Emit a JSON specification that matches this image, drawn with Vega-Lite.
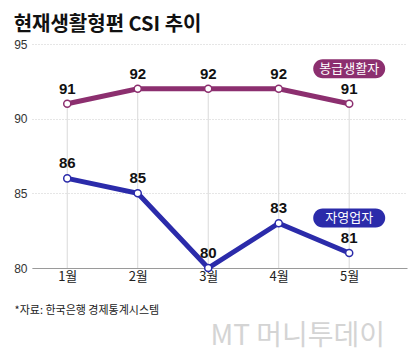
{
  "$schema": "https://vega.github.io/schema/vega-lite/v6.json",
  "width": 375,
  "height": 224,
  "autosize": {"type": "none"},
  "padding": {"left": 32, "top": 44, "right": 13, "bottom": 88},
  "background": "white",
  "title": {
    "text": "현재생활형편 CSI 추이",
    "anchor": "start",
    "dx": 0,
    "offset": 3,
    "font": "Noto Sans CJK KR",
    "fontSize": 20,
    "fontWeight": "bold",
    "color": "#111111"
  },
  "config": {
    "view": {"stroke": null},
    "font": "Noto Sans CJK KR"
  },
  "data": {
    "values": [
      {"month": 1, "series": "봉급생활자", "value": 91},
      {"month": 2, "series": "봉급생활자", "value": 92},
      {"month": 3, "series": "봉급생활자", "value": 92},
      {"month": 4, "series": "봉급생활자", "value": 92},
      {"month": 5, "series": "봉급생활자", "value": 91},
      {"month": 1, "series": "자영업자", "value": 86},
      {"month": 2, "series": "자영업자", "value": 85},
      {"month": 3, "series": "자영업자", "value": 80},
      {"month": 4, "series": "자영업자", "value": 83},
      {"month": 5, "series": "자영업자", "value": 81}
    ]
  },
  "encoding": {
    "x": {
      "field": "month",
      "type": "quantitative",
      "scale": {"domain": [0.5, 5.82], "nice": false, "zero": false},
      "axis": {
        "values": [1, 2, 3, 4, 5],
        "labelExpr": "datum.value + '월'",
        "grid": false,
        "ticks": false,
        "domain": true,
        "domainColor": "#9a9a9a",
        "domainWidth": 1,
        "labelFont": "Noto Sans CJK KR",
        "labelFontSize": 13,
        "labelColor": "#222222",
        "labelPadding": 2,
        "title": "*자료: 한국은행 경제통계시스템",
        "titleFont": "Noto Sans CJK KR",
        "titleFontSize": 11,
        "titleFontWeight": "normal",
        "titleColor": "#222222",
        "titleX": -18,
        "titleY": 42,
        "titleAlign": "left",
        "titleBaseline": "middle",
        "titleAnchor": null
      }
    },
    "y": {
      "field": "value",
      "type": "quantitative",
      "scale": {"domain": [80, 95], "nice": false, "zero": false},
      "axis": {
        "values": [80, 85, 90, 95],
        "grid": true,
        "gridColor": "#cccccc",
        "gridDash": [1, 2],
        "gridWidth": 1,
        "ticks": false,
        "domain": false,
        "labelFont": "Liberation Sans",
        "labelFontSize": 12,
        "labelColor": "#333333",
        "labelPadding": 5,
        "title": "MT 머니투데이",
        "titleFont": "Noto Sans CJK KR",
        "titleFontSize": 28,
        "titleFontWeight": "normal",
        "titleColor": "#d4d4d4",
        "titleAngle": 0,
        "titleX": 178,
        "titleY": 292,
        "titleAlign": "left",
        "titleBaseline": "middle"
      }
    }
  },
  "layer": [
    {
      "transform": [{"filter": "datum.series === '봉급생활자'"}],
      "mark": {"type": "rule", "color": "#d9d9d9", "strokeWidth": 1},
      "encoding": {"y2": {"datum": 80}}
    },
    {
      "mark": {"type": "line", "strokeWidth": 5},
      "encoding": {
        "color": {
          "field": "series",
          "type": "nominal",
          "scale": {"domain": ["봉급생활자", "자영업자"], "range": ["#8c2f6f", "#2b2baa"]},
          "legend": null
        }
      }
    },
    {
      "mark": {"type": "point", "filled": true, "fill": "white", "size": 50, "strokeWidth": 1.5, "opacity": 1},
      "encoding": {
        "stroke": {
          "field": "series",
          "type": "nominal",
          "scale": {"domain": ["봉급생활자", "자영업자"], "range": ["#8c2f6f", "#2b2baa"]},
          "legend": null
        }
      }
    },
    {
      "mark": {"type": "text", "dy": -15, "font": "Liberation Sans", "fontSize": 15, "fontWeight": "bold", "color": "#111111", "baseline": "middle"},
      "encoding": {"text": {"field": "value", "type": "quantitative"}}
    },
    {
      "transform": [{"filter": "datum.month === 5"}],
      "mark": {
        "type": "point",
        "shape": "M -0.736 -0.264 L 0.736 -0.264 A 0.264 0.264 0 0 1 0.736 0.264 L -0.736 0.264 A 0.264 0.264 0 0 1 -0.736 -0.264 Z",
        "size": 5184,
        "filled": true,
        "opacity": 1,
        "yOffset": -35
      },
      "encoding": {
        "color": {
          "field": "series",
          "type": "nominal",
          "scale": {"domain": ["봉급생활자", "자영업자"], "range": ["#8c2f6f", "#2b2baa"]},
          "legend": null
        }
      }
    },
    {
      "transform": [{"filter": "datum.month === 5"}],
      "mark": {"type": "text", "yOffset": -35, "font": "Noto Sans CJK KR", "fontSize": 13, "color": "white", "baseline": "middle"},
      "encoding": {"text": {"field": "series", "type": "nominal"}}
    }
  ]
}
